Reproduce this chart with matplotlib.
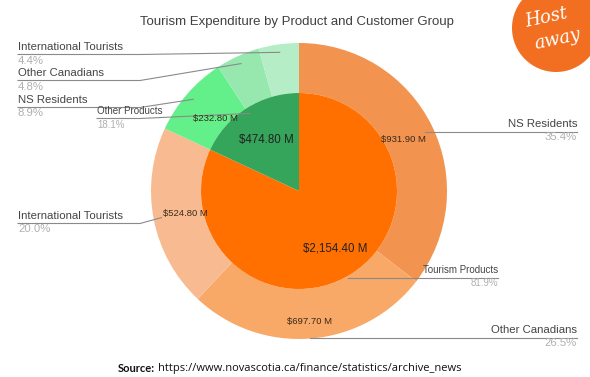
import numpy as np
import matplotlib.pyplot as plt
from matplotlib.patches import Circle

plt.rcParams['font.family'] = ['Liberation Sans', 'DejaVu Sans']

# inner ring: product groups, outer ring: customer groups (in millions)
product_groups = ['Tourism Products', 'Other Products']
product_values = [2154.40, 474.80]
customer_groups = ['NS Residents', 'Other Canadians', 'International Tourists',
                   'NS Residents', 'Other Canadians', 'International Tourists']
customer_values = [931.90, 697.70, 524.80, 232.80, 126.20, 115.80]

inner_colors = ['#ff7000', '#34a55a']
outer_colors = ['#f2934f', '#f8a867', '#f8bb91', '#63f08a', '#96e8ae', '#b5eec6']

W, H = 590, 377
fig = plt.figure(figsize=(5.9, 3.77), dpi=100)
ax = fig.add_axes([0, 0, 1, 1])

cx, cy = 299, H - 191
r_out, r_in = 148, 98

ax.pie(customer_values, radius=r_out, center=(cx, cy), startangle=90,
       counterclock=False, colors=outer_colors,
       wedgeprops=dict(width=r_out - r_in, linewidth=0))
ax.pie(product_values, radius=r_in, center=(cx, cy), startangle=90,
       counterclock=False, colors=inner_colors, wedgeprops=dict(linewidth=0))
ax.set_xlim(0, W)
ax.set_ylim(0, H)
ax.set_aspect('equal')
ax.axis('off')


def mid_angles(vals):
    vals = np.asarray(vals, dtype=float)
    cum = np.cumsum(vals) - vals / 2
    return np.deg2rad(90 - 360 * cum / vals.sum())


def polar(ang, r):
    return cx + r * np.cos(ang), cy + r * np.sin(ang)


total = sum(product_values)
out_ang = mid_angles(customer_values)
in_ang = mid_angles(product_values)

# value labels inside the wedges
out_val_r = [116, 131, 116, 110]
for i, r in enumerate(out_val_r):
    x, y = polar(out_ang[i], r)
    ax.text(x, y, f"${customer_values[i]:,.2f} M", ha='center', va='center',
            fontsize=6.8, color='#3a2a1a')
in_val_r = [68, 60]
for i, r in enumerate(in_val_r):
    x, y = polar(in_ang[i], r)
    ax.text(x, y, f"${product_values[i]:,.2f} M", ha='center', va='center',
            fontsize=8.3, color='#222222')

# callouts: text x, text y (pixels from top), alignment
out_callouts = [(577, 124, 'right'), (577, 330, 'right'), (18, 216, 'left'),
                (18, 100, 'left'), (18, 73, 'left'), (18, 47, 'left')]
in_callouts = [(498, 270, 'right'), (97, 111, 'left')]


def callout(name, val, ang, r, tx, ty, ha, fs):
    ax_, ay_ = polar(ang, r)
    uy = H - (ty + 7.5)
    if ha == 'left':
        elbow = min(ax_, 140)
        ax.plot([tx, elbow, ax_], [uy, uy, ay_], color='#8a8a8a', lw=0.8)
    else:
        # flat leader starting inside the wedge
        ax.plot([ax_, tx], [uy, uy], color='#8a8a8a', lw=0.8)
    ax.text(tx, H - ty, name, ha=ha, va='center', fontsize=fs, color='#444444')
    ax.text(tx, H - ty - 13.5, f"{100 * val / total:.1f}%", ha=ha,
            va='center', fontsize=fs, color='#b0b0b0')


for i, (tx, ty, ha) in enumerate(out_callouts):
    callout(customer_groups[i], customer_values[i], out_ang[i], 140,
            tx, ty, ha, 8.2)
for i, (tx, ty, ha) in enumerate(in_callouts):
    callout(product_groups[i], product_values[i], in_ang[i], 92,
            tx, ty, ha, 7.0)

ax.text(297, H - 22, 'Tourism Expenditure by Product and Customer Group',
        ha='center', va='center', fontsize=9.5, color='#404040')

# logo in the corner
ax.add_patch(Circle((556, H - 28), 44, color='#f26f21', lw=0, clip_on=False))
ax.text(546, H - 18, 'Host', ha='center', va='center', fontsize=13,
        color='white', style='italic', family='DejaVu Serif', rotation=12)
ax.text(558, H - 39, 'away', ha='center', va='center', fontsize=13,
        color='white', style='italic', family='DejaVu Serif', rotation=12)

ax.text(155, H - 368, 'Source:', ha='right', va='center', fontsize=8,
        weight='bold', family='Lato', color='#111111')
ax.text(158, H - 368,
        'https://www.novascotia.ca/finance/statistics/archive_news',
        ha='left', va='center', fontsize=8, family='Open Sans',
        color='#111111')

fig.savefig('out.png', dpi=100)
